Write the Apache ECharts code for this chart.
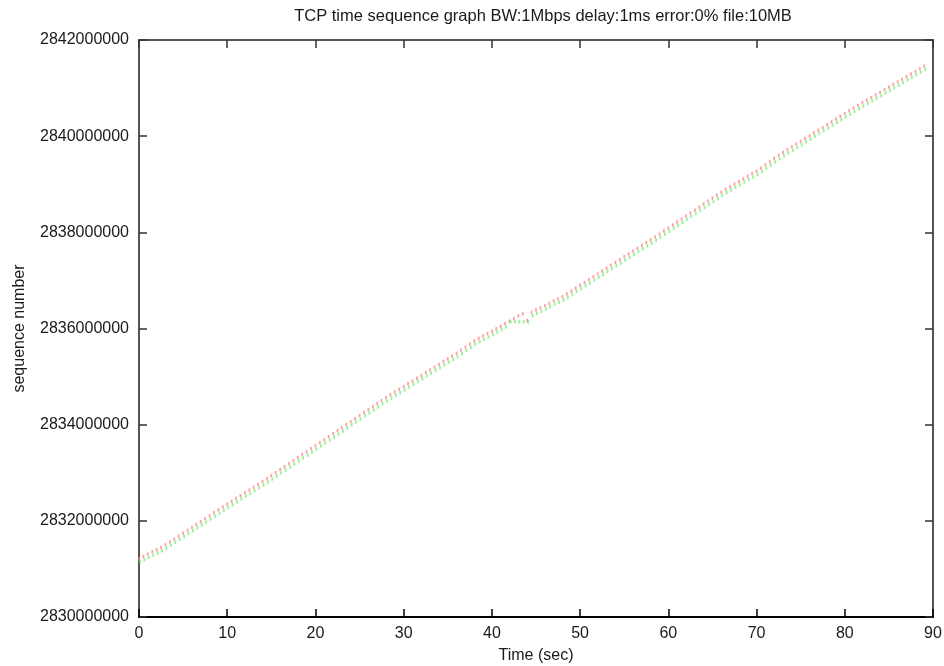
<!DOCTYPE html>
<html><head><meta charset="utf-8">
<script src="https://cdn.jsdelivr.net/npm/echarts@6/dist/echarts.min.js"></script>
<style>html,body{margin:0;padding:0;background:#fff}#c{width:944px;height:666px}</style>
</head><body><div id="c"></div>
<script>
const titleText = 'TCP time sequence graph BW:1Mbps delay:1ms error:0% file:10MB';
const xTicks = [0,10,20,30,40,50,60,70,80,90];
const yTicks = [2830000000,2832000000,2834000000,2836000000,2838000000,2840000000,2842000000];
const times = [
0,0.5,1,1.5,2,2.5,3,3.5,4,4.5,5,5.5,6,6.5,7,7.5,8,8.5,9,9.5,
10,10.5,11,11.5,12,12.5,13,13.5,14,14.5,15,15.5,16,16.5,17,17.5,18,18.5,19,19.5,
20,20.5,21,21.5,22,22.5,23,23.5,24,24.5,25,25.5,26,26.5,27,27.5,28,28.5,29,29.5,
30,30.5,31,31.5,32,32.5,33,33.5,34,34.5,35,35.5,36,36.5,37,37.5,38,38.5,39,39.5,
40,40.5,41,41.5,42,42.5,43,43.5,44,44.5,45,45.5,46,46.5,47,47.5,48,48.5,49,49.5,
50,50.5,51,51.5,52,52.5,53,53.5,54,54.5,55,55.5,56,56.5,57,57.5,58,58.5,59,59.5,
60,60.5,61,61.5,62,62.5,63,63.5,64,64.5,65,65.5,66,66.5,67,67.5,68,68.5,69,69.5,
70,70.5,71,71.5,72,72.5,73,73.5,74,74.5,75,75.5,76,76.5,77,77.5,78,78.5,79,79.5,
80,80.5,81,81.5,82,82.5,83,83.5,84,84.5,85,85.5,86,86.5,87,87.5,88,88.5,89];
const sentSeq = [
2831250000,2831296000,2831343000,2831389000,2831435000,2831481000,2831536000,2831597000,2831657000,2831718000,
2831778000,2831839000,2831899000,2831960000,2832020000,2832081000,2832141000,2832202000,2832262000,2832323000,
2832383000,2832441000,2832500000,2832558000,2832617000,2832675000,2832734000,2832792000,2832850000,2832912000,
2832975000,2833037000,2833100000,2833162000,2833225000,2833287000,2833350000,2833412000,2833475000,2833537000,
2833599000,2833662000,2833724000,2833787000,2833849000,2833912000,2833974000,2834037000,2834099000,2834162000,
2834224000,2834287000,2834349000,2834411000,2834474000,2834536000,2834597000,2834655000,2834713000,2834770000,
2834828000,2834886000,2834943000,2835001000,2835059000,2835116000,2835174000,2835232000,2835290000,2835347000,
2835405000,2835462000,2835520000,2835584000,2835647000,2835711000,2835774000,2835830000,2835880000,2835930000,
2835980000,2836030000,2836082000,2836136000,2836190000,2836244000,2836298000,2836340000,2836200000,2836370000,
2836420000,2836460000,2836510000,2836560000,2836610000,2836650000,2836696000,2836755000,2836814000,2836873000,
2836933000,2836992000,2837051000,2837111000,2837170000,2837229000,2837289000,2837348000,2837407000,2837466000,
2837526000,2837585000,2837644000,2837704000,2837763000,2837822000,2837881000,2837941000,2838000000,2838062000,
2838124000,2838186000,2838249000,2838311000,2838373000,2838435000,2838497000,2838559000,2838622000,2838684000,
2838746000,2838808000,2838870000,2838931000,2838985000,2839039000,2839093000,2839147000,2839201000,2839254000,
2839308000,2839370000,2839437000,2839503000,2839570000,2839637000,2839696000,2839754000,2839812000,2839870000,
2839928000,2839986000,2840043000,2840101000,2840159000,2840217000,2840275000,2840333000,2840391000,2840448000,
2840506000,2840564000,2840621000,2840675000,2840730000,2840784000,2840838000,2840893000,2840947000,2841002000,
2841056000,2841110000,2841165000,2841219000,2841273000,2841328000,2841382000,2841437000,2841491000];
const ackSeq = [
2831180000,2831226000,2831273000,2831319000,2831365000,2831411000,2831466000,2831527000,2831587000,2831648000,
2831708000,2831769000,2831829000,2831890000,2831950000,2832011000,2832071000,2832132000,2832192000,2832253000,
2832313000,2832371000,2832430000,2832488000,2832547000,2832605000,2832664000,2832722000,2832780000,2832842000,
2832905000,2832967000,2833030000,2833092000,2833155000,2833217000,2833280000,2833342000,2833405000,2833467000,
2833529000,2833592000,2833654000,2833717000,2833779000,2833842000,2833904000,2833967000,2834029000,2834092000,
2834154000,2834217000,2834279000,2834341000,2834404000,2834466000,2834527000,2834585000,2834643000,2834700000,
2834758000,2834816000,2834873000,2834931000,2834989000,2835046000,2835104000,2835162000,2835220000,2835277000,
2835335000,2835392000,2835450000,2835514000,2835577000,2835641000,2835704000,2835760000,2835810000,2835860000,
2835910000,2835960000,2836012000,2836066000,2836175000,2836175000,2836175000,2836175000,2836175000,2836300000,
2836350000,2836390000,2836440000,2836490000,2836540000,2836580000,2836626000,2836685000,2836744000,2836803000,
2836863000,2836922000,2836981000,2837041000,2837100000,2837159000,2837219000,2837278000,2837337000,2837396000,
2837456000,2837515000,2837574000,2837634000,2837693000,2837752000,2837811000,2837871000,2837930000,2837992000,
2838054000,2838116000,2838179000,2838241000,2838303000,2838365000,2838427000,2838489000,2838552000,2838614000,
2838676000,2838738000,2838800000,2838861000,2838915000,2838969000,2839023000,2839077000,2839131000,2839184000,
2839238000,2839300000,2839367000,2839433000,2839500000,2839567000,2839626000,2839684000,2839742000,2839800000,
2839858000,2839916000,2839973000,2840031000,2840089000,2840147000,2840205000,2840263000,2840321000,2840378000,
2840436000,2840494000,2840551000,2840605000,2840660000,2840714000,2840768000,2840823000,2840877000,2840932000,
2840986000,2841040000,2841095000,2841149000,2841203000,2841258000,2841312000,2841367000,2841421000];

const TICK_SPAN = 70000;
const FONT = 'Liberation Sans, Arial, Helvetica, sans-serif';
const TXT = '#1a1a1a';

function tickSeries(name, vals, color, dx) {
  return {
    type: 'custom', name: name, xAxisIndex: 0, yAxisIndex: 0,
    data: times.map((t, i) => [t, vals[i] - TICK_SPAN, vals[i]]),
    renderItem: function (params, api) {
      const p1 = api.coord([api.value(0), api.value(1)]);
      const p2 = api.coord([api.value(0), api.value(2)]);
      return { type: 'rect', shape: { x: p1[0] - 0.9 + dx, y: p2[1], width: 1.8, height: Math.max(1, p1[1] - p2[1]) },
               style: { fill: color } };
    },
    silent: true, animation: false
  };
}

const xMin = xTicks[0], xMax = xTicks[xTicks.length - 1];
const yMin = yTicks[0], yMax = yTicks[yTicks.length - 1];
const chart = echarts.init(document.getElementById('c'), null, { renderer: 'canvas' });
chart.setOption({
  animation: false,
  backgroundColor: '#fff',
  title: { text: titleText, left: 538, top: 3, textAlign: 'center',
    textStyle: { fontFamily: FONT, fontSize: 16.5, fontWeight: 'normal', color: TXT } },
  grid: { left: 139, right: 11, top: 40, bottom: 49, containLabel: false, outerBoundsMode: 'none' },
  xAxis: [
    { type: 'value', min: xMin, max: xMax, interval: 10, position: 'bottom',
      name: 'Time (sec)', nameLocation: 'middle', nameGap: 31,
      nameTextStyle: { fontFamily: FONT, fontSize: 16, color: TXT },
      axisLine: { show: true, onZero: false, lineStyle: { color: '#000', width: 2 } },
      axisTick: { show: true, inside: true, length: 8, lineStyle: { color: '#000', width: 1.5 } },
      axisLabel: { fontFamily: FONT, fontSize: 16, color: TXT, margin: 9, showMinLabel: true, showMaxLabel: true },
      splitLine: { show: false } },
    { type: 'value', min: xMin, max: xMax, interval: 10, position: 'top',
      axisLine: { show: true, onZero: false, lineStyle: { color: '#555', width: 2 } },
      axisTick: { show: true, inside: true, length: 8, lineStyle: { color: '#333', width: 1.5 } },
      axisLabel: { show: false }, splitLine: { show: false } }
  ],
  yAxis: [
    { type: 'value', min: yMin, max: yMax, interval: 2000000, position: 'left',
      name: 'sequence number', nameLocation: 'middle', nameGap: 111, nameRotate: 90,
      nameTextStyle: { fontFamily: FONT, fontSize: 16, color: TXT },
      axisLine: { show: true, onZero: false, lineStyle: { color: '#555', width: 2 } },
      axisTick: { show: true, inside: true, length: 8, lineStyle: { color: '#333', width: 1.5 } },
      axisLabel: { fontFamily: FONT, fontSize: 16, color: TXT, margin: 10, showMinLabel: true, showMaxLabel: true,
        formatter: v => String(v) },
      splitLine: { show: false } },
    { type: 'value', min: yMin, max: yMax, interval: 2000000, position: 'right',
      axisLine: { show: true, onZero: false, lineStyle: { color: '#555', width: 2 } },
      axisTick: { show: true, inside: true, length: 8, lineStyle: { color: '#333', width: 1.5 } },
      axisLabel: { show: false }, splitLine: { show: false } }
  ],
  series: [
    tickSeries('sent', sentSeq, 'rgba(255,120,120,0.7)', 0),
    tickSeries('ack', ackSeq, 'rgba(100,240,100,0.7)', 1)
  ]
});
</script>
</body></html>
